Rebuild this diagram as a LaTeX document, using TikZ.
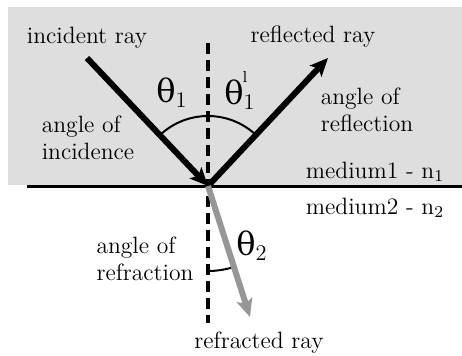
\documentclass[tikz,border=0pt]{standalone}
\usepackage{fontspec}
\newfontfamily\gfont{DejaVu Serif}
\usetikzlibrary{arrows.meta}
\begin{document}
\begin{tikzpicture}[x=0.5pt,y=0.5pt,
  lbl/.style={font=\fontsize{11.8}{13.6}\selectfont, inner sep=0pt},
  lbl2/.style={lbl, align=left},
  ang/.style={font=\gfont\fontsize{16}{18}\selectfont, inner sep=0pt},
  ray/.style={line width=3pt, -{Stealth[length=9pt,width=8pt,inset=2pt]}},
  rray/.style={ray, draw={rgb,255:red,150;green,150;blue,150}},
  arcline/.style={line width=1pt},
  normal/.style={line width=1.6pt, dash pattern=on 5.5pt off 3pt}]
\useasboundingbox (0,0) rectangle (462,355);
\fill[fill={rgb,255:red,222;green,222;blue,222}] (8,170) rectangle (462,348);
\draw[line width=1.5pt] (27,169) -- (462,169);
\coordinate (O) at (208,169);
\coordinate (Ntop) at (208,312);
\coordinate (Nbot) at (208,32);
\coordinate (A) at (87,297);
\coordinate (B) at (328,297);
\coordinate (C) at (250,38);
\draw[normal] (Ntop) -- (Nbot);
\draw[arcline] ([shift={(47:70)}]O) arc[start angle=47,end angle=133,radius=70];
\draw[arcline] ([shift={(270:85)}]O) arc[start angle=270,end angle=288,radius=85];
\draw[ray] (A) -- (O);
\draw[ray] (O) -- (B);
\draw[rray] (O) -- (C);
\node[lbl] (inc) at (87,317) {incident ray};
\node[lbl] (refl) at (313,318) {reflected ray};
\node[lbl] (refr) at (259,12) {refracted ray};
\node[lbl2] (aoi) at (88,217) {angle of\\incidence};
\node[lbl2] (aor) at (367,245) {angle of\\reflection};
\node[lbl2] (aof) at (145,96) {angle of\\refraction};
\node[lbl] (m1) at (375,183) {medium1 - n\textsubscript{1}};
\node[lbl] (m2) at (375,147) {medium2 - n\textsubscript{2}};
\node[ang] (t1) at (172,262) {θ\textsubscript{\rmfamily 1}};
\node[ang] (t1p) at (240,260) {θ\textsubscript{\rmfamily 1}};
\node[font=\fontsize{8}{8}\selectfont, inner sep=0pt] (pr) at (245,278) {l};
\node[ang] (t2) at (252,109) {θ\textsubscript{\rmfamily 2}};
\end{tikzpicture}
\end{document}
